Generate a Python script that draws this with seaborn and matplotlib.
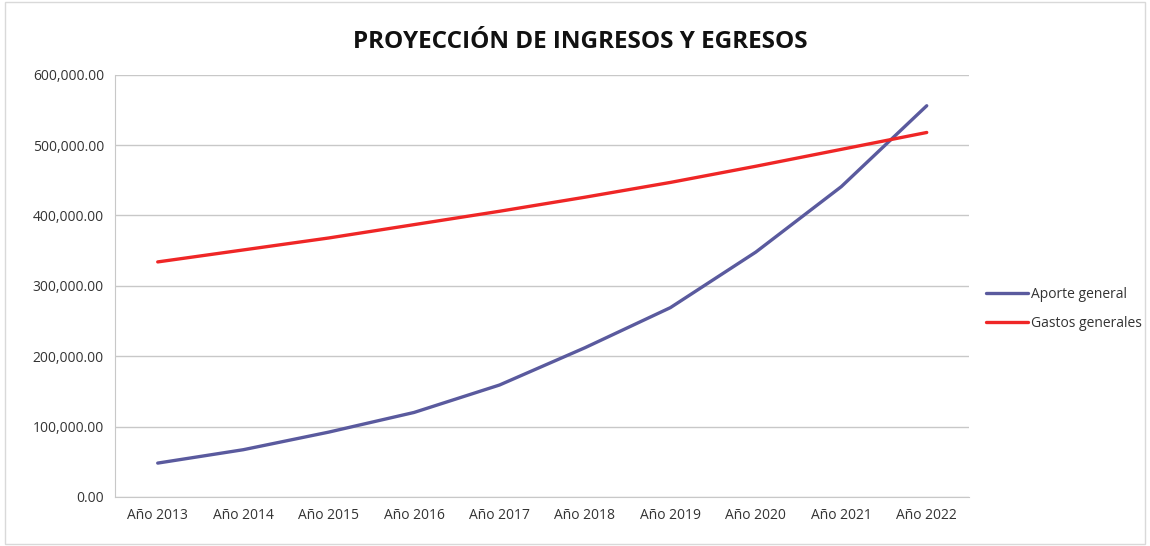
import numpy as np
import matplotlib
matplotlib.use('Agg')
import matplotlib.pyplot as plt
import pandas as pd
import seaborn as sns
from matplotlib.ticker import FuncFormatter

years = ['Año 2013', 'Año 2014', 'Año 2015', 'Año 2016', 'Año 2017',
         'Año 2018', 'Año 2019', 'Año 2020', 'Año 2021', 'Año 2022']
aporte = [48000, 67000, 92000, 120000, 159000, 212000, 269000, 348000, 441000, 556000]
gastos = [334000, 351000, 368000, 387000, 406000, 426000, 447000, 470000, 494000, 518000]
series = ['Aporte general', 'Gastos generales']
colors = ['#5a5a9e', '#ef2626']

df = pd.DataFrame({'year': years * 2,
                   'valor': aporte + gastos,
                   'serie': [series[0]] * len(years) + [series[1]] * len(years)})

sns.set_style('white')
plt.rcParams['font.family'] = ['Open Sans', 'DejaVu Sans']

fig = plt.figure(figsize=(11.5, 5.46), dpi=100)
ax = fig.add_axes([0.1, 0.09, 0.743, 0.773])
sns.lineplot(data=df, x='year', y='valor', hue='serie', palette=colors,
             linewidth=2.4, sort=False, ax=ax)

ax.set_xlim(-0.5, len(years) - 0.5)
ax.set_ylim(0, 600000)
ax.set_yticks(np.arange(0, 600001, 100000))
ax.yaxis.set_major_formatter(FuncFormatter(lambda v, p: f'{v:,.2f}'))
ax.grid(axis='y', color='#c8c8c8', linewidth=1)
ax.set_axisbelow(True)
for s in ['top', 'right']:
    ax.spines[s].set_visible(False)
ax.spines['left'].set_color('#c8c8c8')
ax.spines['bottom'].set_color('#c8c8c8')
ax.tick_params(axis='both', labelsize=10, colors='#333333', length=0, pad=8)
ax.set_xlabel('')
ax.set_ylabel('')

fig.suptitle('PROYECCIÓN DE INGRESOS Y EGRESOS', x=0.505, y=0.945,
             fontsize=17.5, fontweight='bold', color='#111111')

leg = ax.legend(loc='center left', bbox_to_anchor=(1.005, 0.445), frameon=False,
                fontsize=10, handlelength=3.0, handletextpad=0.2, labelspacing=1.0)
for t in leg.get_texts():
    t.set_color('#333333')

fig.patches.append(plt.Rectangle((0.004, 0.004), 0.992, 0.992, transform=fig.transFigure,
                                 fill=False, edgecolor='#d9d9d9', linewidth=1))

fig.savefig('out.png', dpi=100, facecolor='white')
